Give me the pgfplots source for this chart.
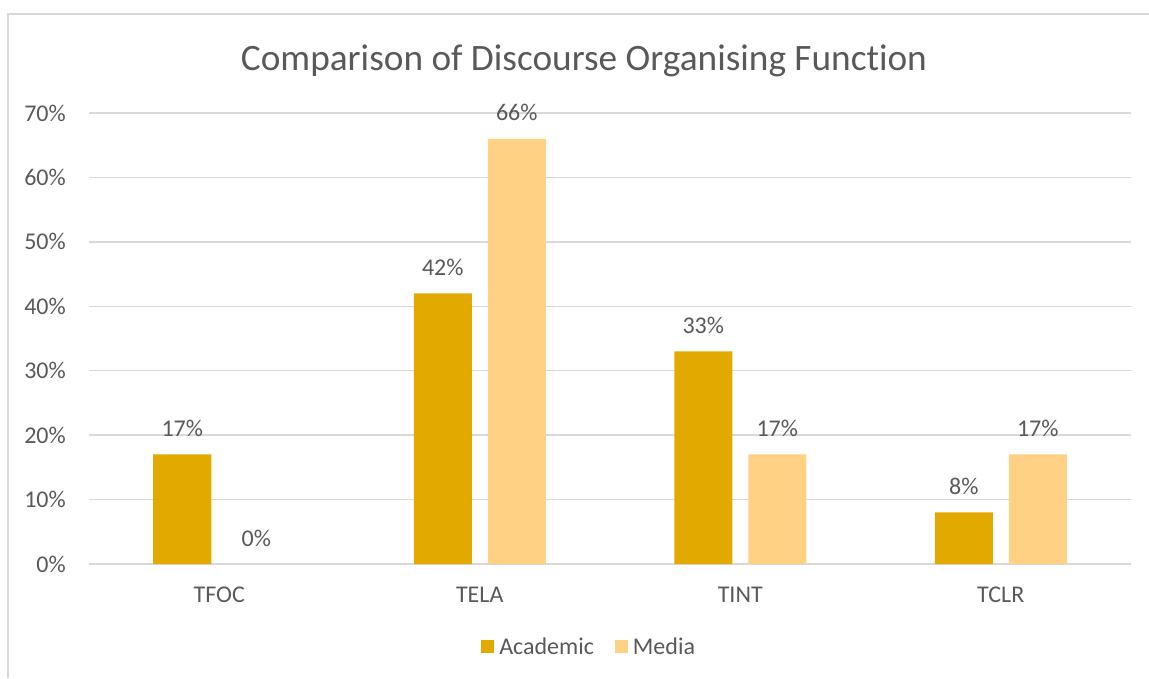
\documentclass[border=0pt]{standalone}
\usepackage{fontspec}
\setmainfont{Carlito}[Ligatures=NoCommon]
\usepackage{pgfplots}
\pgfplotsset{compat=1.18}
\definecolor{acad}{HTML}{E2AA00}
\definecolor{media}{HTML}{FFD184}
\definecolor{txt}{HTML}{595959}
\definecolor{gridc}{HTML}{D9D9D9}
\begin{document}
\begin{tikzpicture}[x=1pt,y=1pt]
\path[use as bounding box] (0,0) rectangle (1149,678);
\draw[gridc, line width=1.5pt] (8,0) -- (8,664) -- (1149,664);
\node[txt, font=\fontsize{37.3}{44}\selectfont, anchor=base, inner sep=0pt] at (584,607) {Comparison of Discourse Organising Function};
\begin{axis}[
  at={(89pt,114pt)}, anchor=south west, scale only axis,
  width=1042pt, height=451pt,
  xmin=-0.5, xmax=3.5, ymin=0, ymax=70,
  /pgf/number format/assume math mode=true,
  axis line style={draw=none},
  tick style={draw=none},
  ymajorgrids, major grid style={gridc, line width=1.5pt},
  xtick={0,1,2,3}, xticklabels={TFOC,TELA,TINT,TCLR},
  ytick={0,10,...,70},
  yticklabel={\pgfmathprintnumber{\tick}\%},
  ticklabel style={font=\fontsize{24}{28}\selectfont, text=txt},
  yticklabel style={anchor=east, inner sep=0pt, xshift=-23pt},
  xticklabel style={anchor=base, inner sep=0pt, yshift=-34pt},
  ybar=16pt, bar width=58pt,
  nodes near coords={\pgfmathprintnumber{\pgfplotspointmeta}\%},
  nodes near coords style={font=\fontsize{24}{28}\selectfont, text=txt, anchor=base, inner sep=0pt, yshift=18pt},
  legend style={at={(0.48,-0.184)}, anchor=center, draw=none, fill=none, legend columns=2,
    font=\fontsize{24}{28}\selectfont, text=txt, inner sep=0pt,
    /tikz/every odd column/.append style={column sep=3pt},
    /tikz/every even column/.append style={column sep=19pt}},
  legend image code/.code={\fill[#1] (0pt,-6.5pt) rectangle (13pt,6.5pt);},
]
\addplot[fill=acad, draw=none] coordinates {(0,17) (1,42) (2,33) (3,8)};
\addplot[fill=media, draw=none] coordinates {(0,0) (1,66) (2,17) (3,17)};
\legend{Academic, Media}
\end{axis}
\end{tikzpicture}
\end{document}
